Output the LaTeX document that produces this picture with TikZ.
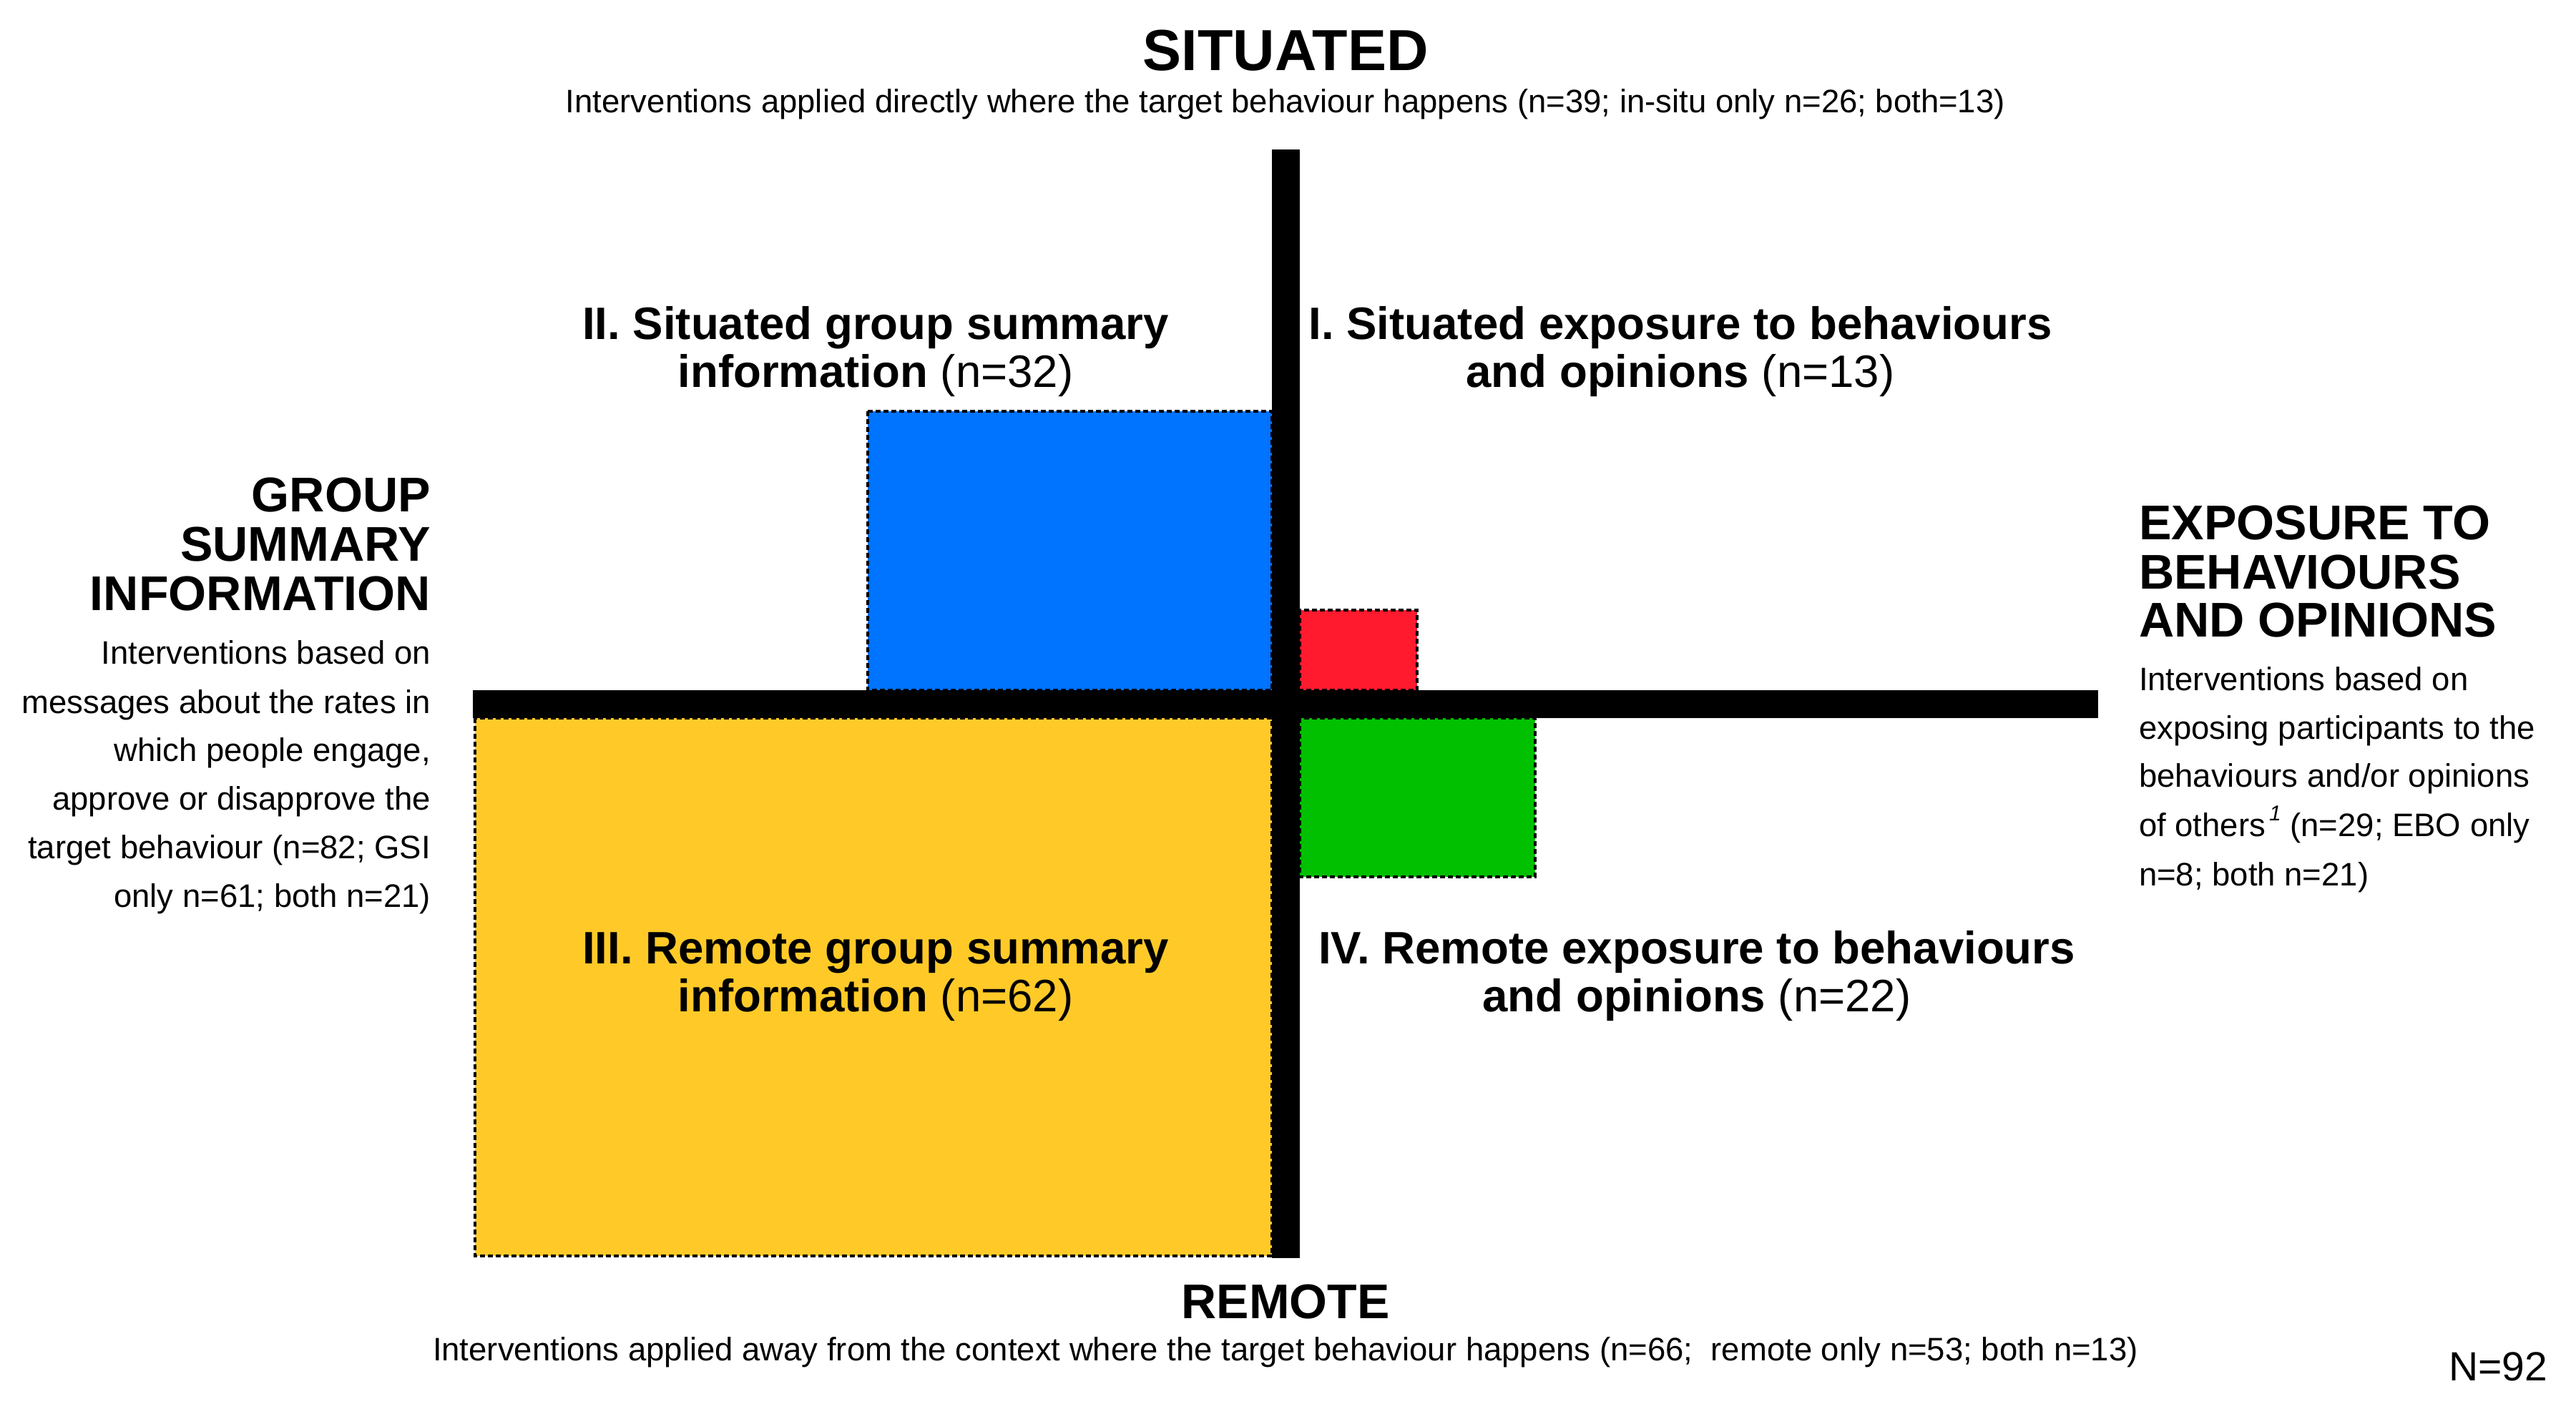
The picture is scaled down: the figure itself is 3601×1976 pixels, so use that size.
\documentclass[tikz,border=0pt]{standalone}
\usepackage{fontspec}
\setmainfont{Liberation Sans}
\definecolor{qblue}{HTML}{0073FF}
\definecolor{qred}{HTML}{FF1A2E}
\definecolor{qgreen}{HTML}{00C000}
\definecolor{qyellow}{HTML}{FFCA28}
\tikzset{
  every node/.style={inner sep=0pt, outer sep=0pt},
  bar/.style={fill=black, draw=none},
  quadbox/.style={draw=black, line width=4.5pt, dash pattern=on 7pt off 4pt},
  title/.style={font=\fontsize{81}{84}\selectfont\bfseries, anchor=base},
  title2/.style={font=\fontsize{68}{70}\selectfont\bfseries, anchor=base},
  desc/.style={font=\fontsize{45.5}{68}\selectfont},
  hdr/.style={font=\fontsize{68.2}{69}\selectfont\bfseries},
  quad/.style={font=\fontsize{63.6}{67}\selectfont\bfseries, anchor=base},
}
\begin{document}
\begin{tikzpicture}[x=1pt, y=-1pt]
\useasboundingbox (0,0) rectangle (3601,1976);
\fill[white] (0,0) rectangle (3601,1976);

% quadrant boxes
\filldraw[quadbox, fill=qblue]   (1213,575)  rectangle (1778,965);
\filldraw[quadbox, fill=qred]    (1817,853)  rectangle (1981,965);
\filldraw[quadbox, fill=qgreen]  (1817,1004) rectangle (2146,1226);
\filldraw[quadbox, fill=qyellow] (664,1004)  rectangle (1778,1756);

% axes
\fill[bar] (1778,209) rectangle (1817,1759);
\fill[bar] (661,965) rectangle (2933,1004);

% top / bottom
\node[title] (sit) at (1797,98) {SITUATED};
\node[desc, anchor=base] (sitd) at (1797,157) {Interventions applied directly where the target behaviour happens (n=39; in-situ only n=26; both=13)};
\node[title2] (rem) at (1797,1843) {REMOTE};
\node[desc, anchor=base] (remd) at (1797,1902) {Interventions applied away from the context where the target behaviour happens (n=66;\ \ remote only n=53; both n=13)};
\node[font=\fontsize{57}{60}\selectfont, anchor=base east] (ntot) at (3561,1930) {N=92};

% quadrant labels
\node[quad] (q2a) at (1224,474) {II. Situated group summary};
\node[quad] (q2b) at (1224,541) {information {\mdseries (n=32)}};
\node[quad] (q1a) at (2349,474) {I. Situated exposure to behaviours};
\node[quad] (q1b) at (2349,541) {and opinions {\mdseries (n=13)}};
\node[quad] (q3a) at (1224,1347) {III. Remote group summary};
\node[quad] (q3b) at (1224,1414) {information {\mdseries (n=62)}};
\node[quad] (q4a) at (2372,1347) {IV. Remote exposure to behaviours};
\node[quad] (q4b) at (2372,1414) {and opinions {\mdseries (n=22)}};

% left side
\node[hdr, anchor=base east] (gl1) at (602,715) {GROUP};
\node[hdr, anchor=base east] (gl2) at (602,784) {SUMMARY};
\node[hdr, anchor=base east] (gl3) at (602,853) {INFORMATION};
\node[desc, anchor=base east] (gd1) at (602,928)  {Interventions based on};
\node[desc, anchor=base east] (gd2) at (602,997)  {messages about the rates in};
\node[desc, anchor=base east] (gd3) at (602,1064) {which people engage,};
\node[desc, anchor=base east] (gd4) at (602,1132) {approve or disapprove the};
\node[desc, anchor=base east] (gd5) at (602,1200) {target behaviour (n=82; GSI};
\node[desc, anchor=base east] (gd6) at (602,1268) {only n=61; both n=21)};

% right side
\node[hdr, anchor=base west] (er1) at (2990,754) {EXPOSURE TO};
\node[hdr, anchor=base west] (er2) at (2990,823) {BEHAVIOURS};
\node[hdr, anchor=base west] (er3) at (2990,890) {AND OPINIONS};
\node[desc, anchor=base west] (ed1) at (2990,965)  {Interventions based on};
\node[desc, anchor=base west] (ed2) at (2990,1033) {exposing participants to the};
\node[desc, anchor=base west] (ed3) at (2990,1100) {behaviours and/or opinions};
\node[desc, anchor=base west] (ed4) at (2990,1169) {of others\raisebox{0.9ex}{\fontsize{30}{30}\selectfont\itshape\,1}\ (n=29; EBO only};
\node[desc, anchor=base west] (ed5) at (2990,1238) {n=8; both n=21)};
\end{tikzpicture}
\end{document}
